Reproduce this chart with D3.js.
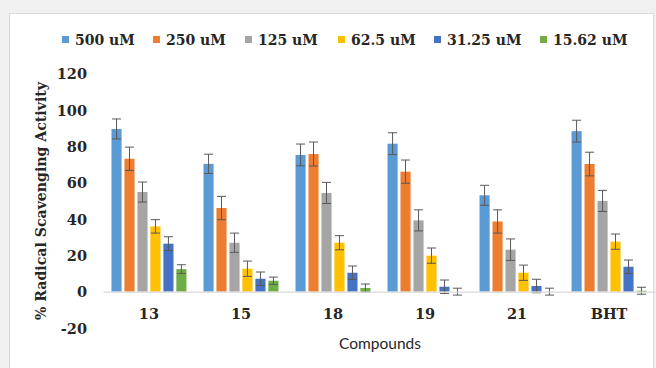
<!DOCTYPE html>
<html><head><meta charset="utf-8">
<script src="https://cdn.jsdelivr.net/npm/d3@7"></script>
<style>
html,body{margin:0;padding:0;background:#F0F0F0;}
svg{display:block;}
</style></head>
<body>
<svg id="c" width="656" height="368"></svg>
<script>
const categories = ["13","15","18","19","21","BHT"];
const seriesNames = ["500 uM","250 uM","125 uM","62.5 uM","31.25 uM","15.62 uM"];
const colors = ["#5B9BD5","#ED7D31","#A5A5A5","#FFC000","#4472C4","#70AD47"];
const v500  = [89.5, 70.3, 75.2, 81.4, 53.0, 88.3];
const v250  = [73.1, 46.0, 75.7, 66.0, 38.6, 70.2];
const v125  = [54.8, 26.9, 54.3, 39.2, 23.1, 49.9];
const v62   = [35.9, 12.6, 26.9, 19.8, 10.4, 27.5];
const v31   = [26.4, 7.1, 10.4, 2.7, 3.1, 13.7];
const v15   = [12.4, 6.0, 2.0, 0, 0, 0.5];
const e500  = [5.5, 5.3, 6.0, 6.0, 5.5, 6.0];
const e250  = [6.4, 6.4, 6.6, 6.4, 6.4, 6.5];
const e125  = [5.5, 5.3, 5.8, 5.8, 5.9, 5.8];
const e62   = [3.7, 4.2, 3.9, 4.2, 4.2, 4.2];
const e31   = [3.8, 3.7, 3.7, 3.7, 3.7, 3.7];
const e15   = [2.4, 2.0, 2.2, 1.9, 1.9, 1.9];
const yTicks = [-20, 0, 20, 40, 60, 80, 100, 120];

const values = [v500, v250, v125, v62, v31, v15];
const errors = [e500, e250, e125, e62, e31, e15];

// legend layout (swatch left edges)
const legendX = [62, 153, 245, 338, 434, 540];

const svg = d3.select("#c");
const serif = "'DejaVu Serif', serif";

// chart area
svg.append("rect").attr("x", 9.5).attr("y", 13.5).attr("width", 644).attr("height", 360)
  .attr("fill", "#fff").attr("stroke", "#D9D9D9");

const x0 = d3.scaleBand().domain(categories).range([103, 655]).paddingInner(0.185).paddingOuter(0.092);
const x1 = d3.scaleBand().domain(seriesNames).range([0, x0.bandwidth()]).paddingInner(0.22);
const y = d3.scaleLinear().domain([-20, 120]).range([328, 73.5]);

// y tick labels
const yAxis = d3.axisLeft(y).tickValues(yTicks).tickSize(0).tickPadding(0).tickFormat(d => String(d));
const ya = svg.append("g").attr("transform", "translate(87,0)").call(yAxis);
ya.select(".domain").remove();
ya.selectAll("text").attr("font-family", serif).attr("font-weight", "bold")
  .attr("font-size", 14.5).attr("fill", "#262626").attr("dy", "0.36em");

// bars
const groups = svg.append("g").selectAll("g").data(categories).join("g")
  .attr("transform", d => `translate(${x0(d)},0)`);

seriesNames.forEach((s, si) => {
  groups.append("rect")
    .attr("x", x1(s))
    .attr("width", x1.bandwidth())
    .attr("y", (d, ci) => y(Math.max(0, values[si][ci])))
    .attr("height", (d, ci) => Math.abs(y(values[si][ci]) - y(0)))
    .attr("fill", colors[si]);
});

// zero axis line
const xAxis = d3.axisBottom(x0).tickSize(0).tickPadding(0);
const xa = svg.append("g").attr("transform", `translate(0,${y(0)})`).call(xAxis);
xa.select(".domain").attr("stroke", "#D9D9D9").attr("stroke-width", 1.2);
xa.selectAll("text").attr("font-family", serif).attr("font-weight", "bold")
  .attr("font-size", 14.5).attr("fill", "#262626").attr("y", 27.5).attr("dy", "0");

// error bars
seriesNames.forEach((s, si) => {
  groups.each(function(d, ci) {
    const g = d3.select(this);
    const cx = x1(s) + x1.bandwidth() / 2;
    const v = values[si][ci], e = errors[si][ci];
    const yt = y(v + e), yb = y(v - e);
    g.append("line").attr("x1", cx).attr("x2", cx).attr("y1", yt).attr("y2", yb)
      .attr("stroke", "#595959").attr("stroke-width", 1);
    [yt, yb].forEach(yy => g.append("line").attr("x1", cx - 4.5).attr("x2", cx + 4.5)
      .attr("y1", yy).attr("y2", yy).attr("stroke", "#595959").attr("stroke-width", 1));
  });
});

// axis titles
svg.append("text").attr("transform", "translate(46,201) rotate(-90)")
  .attr("text-anchor", "middle").attr("font-family", serif).attr("font-weight", "bold")
  .attr("font-size", 14).attr("fill", "#262626")
  .attr("textLength", 238).attr("lengthAdjust", "spacingAndGlyphs")
  .text("% Radical Scavenging Activity");

svg.append("text").attr("x", 380).attr("y", 349).attr("text-anchor", "middle")
  .attr("font-family", "Lato, 'Open Sans', sans-serif").attr("font-size", 15.5).attr("fill", "#262626")
  .text("Compounds");

// legend
const lg = svg.append("g");
seriesNames.forEach((s, si) => {
  const lx = legendX[si];
  lg.append("rect").attr("x", lx).attr("y", 36).attr("width", 7).attr("height", 7).attr("fill", colors[si]);
  lg.append("text").attr("x", lx + 13).attr("y", 44.5)
    .attr("font-family", serif).attr("font-weight", "bold").attr("font-size", 14)
    .attr("fill", "#262626").text(s);
});
</script>
</body></html>
